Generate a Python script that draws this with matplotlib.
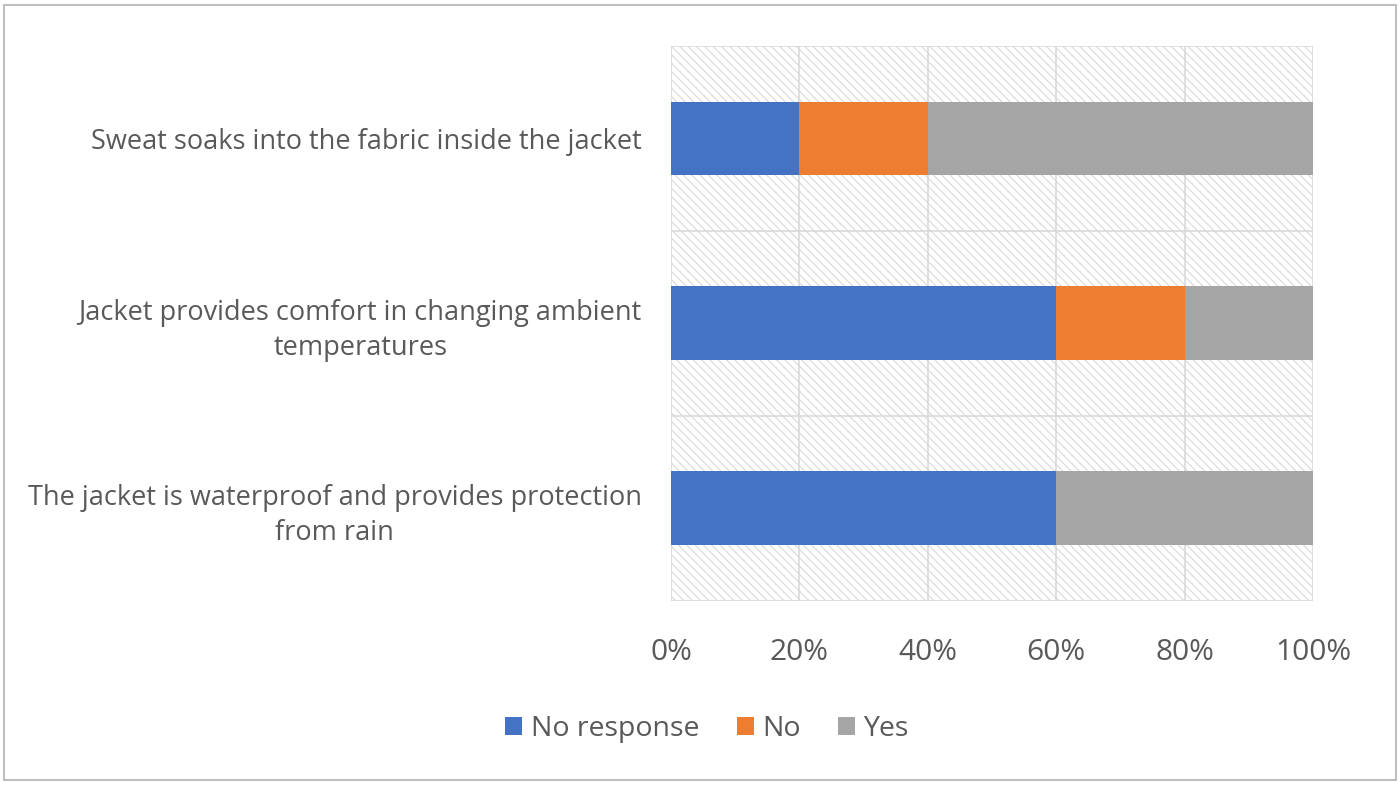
import matplotlib.pyplot as plt
from matplotlib.patches import Rectangle
from matplotlib.ticker import PercentFormatter

categories = ['The jacket is waterproof and provides protection\nfrom rain',
              'Jacket provides comfort in changing ambient\ntemperatures',
              'Sweat soaks into the fabric inside the jacket']
no_response = [60, 60, 20]
no = [0, 20, 20]
yes = [40, 20, 60]
series_names = ['No response', 'No', 'Yes']
colors = ['#4472C4', '#ED7D31', '#A5A5A5']

plt.rcParams['font.family'] = ['Open Sans', 'DejaVu Sans']
plt.rcParams['hatch.linewidth'] = 0.8

fig = plt.figure(figsize=(14, 7.85), dpi=100)
fig.patches.append(Rectangle((0.003, 0.006), 0.994, 0.988, transform=fig.transFigure,
                             fill=False, edgecolor='#BFBFBF', linewidth=1.5))
ax = fig.add_axes([0.4793, 0.2344, 0.4586, 0.707])

# hatched background
ax.patch.set_facecolor('white')
bg = Rectangle((0, 0), 1, 1, transform=ax.transAxes, facecolor='white',
               edgecolor='#D9D9D9', hatch='\\\\\\\\', linewidth=0, zorder=0)
ax.add_patch(bg)

y = range(len(categories))
left = [0] * len(categories)
for vals, name, c in zip([no_response, no, yes], series_names, colors):
    ax.barh(y, vals, left=left, height=0.4, color=c, label=name, zorder=3)
    left = [l + v for l, v in zip(left, vals)]

ax.set_xlim(0, 100)
ax.set_ylim(-0.5, len(categories) - 0.5)
ax.set_xticks(range(0, 101, 20))
ax.xaxis.set_major_formatter(PercentFormatter(decimals=0))
ax.set_yticks(list(y))
ax.set_yticklabels(categories, ha='right', multialignment='center', linespacing=1.35)
for i in range(len(categories) + 1):
    ax.axhline(i - 0.5, color='#D9D9D9', linewidth=1.2, zorder=1)
for xv in range(0, 101, 20):
    ax.axvline(xv, color='#D9D9D9', linewidth=1.2, zorder=1)

for s in ax.spines.values():
    s.set_visible(False)
ax.tick_params(axis='both', length=0, colors='#595959')
ax.tick_params(axis='x', labelsize=21.5, pad=27)
ax.tick_params(axis='y', labelsize=19.5, pad=21)

ax.legend(loc='upper center', bbox_to_anchor=(0.505, 0.122), bbox_transform=fig.transFigure,
          ncol=3, frameon=False, fontsize=20.5, handlelength=0.6, handleheight=0.6,
          handletextpad=0.3, columnspacing=1.3, labelcolor='#595959')

fig.savefig('out.png', dpi=100)
